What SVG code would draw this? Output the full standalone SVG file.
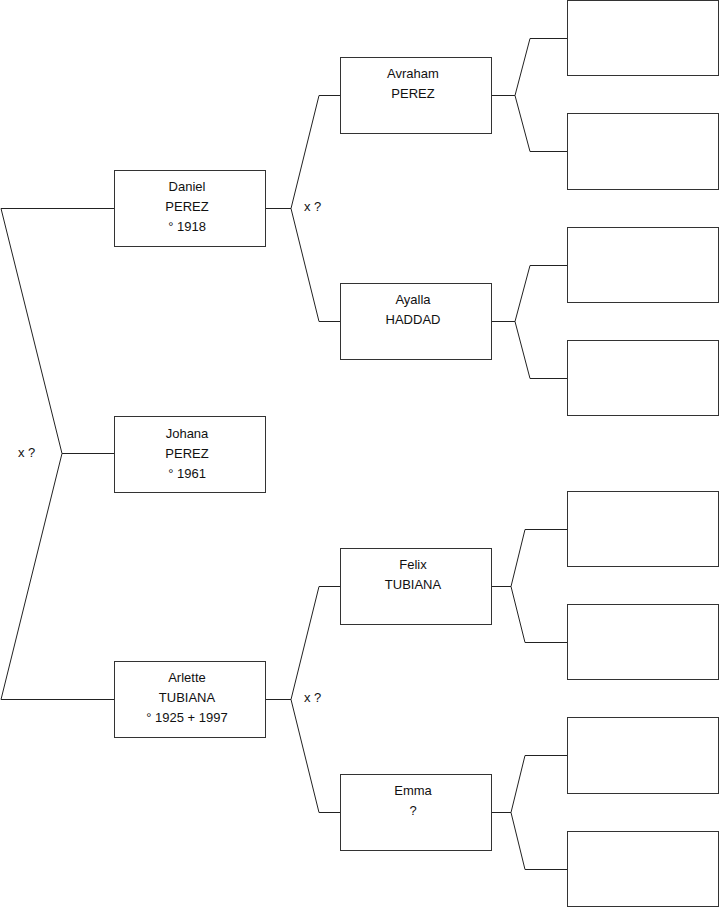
<svg xmlns="http://www.w3.org/2000/svg" width="719" height="908" viewBox="0 0 719 908">
<style>
.box{fill:#fff;stroke:#333;stroke-width:1}
.ln{fill:none;stroke:#222;stroke-width:1}
text{font-family:"Liberation Sans",Arial,sans-serif;font-size:13px;fill:#111}
.c{text-anchor:middle}
</style>
<rect width="719" height="908" fill="#fff"/>
<g id="connectors">
<path class="ln" d="M1 208.5H114.5M1 208.5L62 453.5L1 699.5H114.5M62 453.5H114.5"/>
<path class="ln" d="M265.5 208.5H291L319 95.5H340.5M291 208.5L319 321.5H340.5"/>
<path class="ln" d="M265.5 699.5H291L319 586.5H340.5M291 699.5L319 812.5H340.5"/>
<path class="ln" d="M491.5 95.5H515L530 38.5H567.5M515 95.5L530 151.5H567.5"/>
<path class="ln" d="M491.5 321.5H515L530 265.5H567.5M515 321.5L530 378.5H567.5"/>
<path class="ln" d="M491.5 586.5H511L525 529.5H567.5M511 586.5L525 642.5H567.5"/>
<path class="ln" d="M491.5 812.5H511L525 755.5H567.5M511 812.5L525 869.5H567.5"/>
<text x="18" y="457">x ?</text>
<text x="304" y="211">x ?</text>
<text x="304" y="702">x ?</text>
</g>
<g id="daniel"><rect class="box" x="114.5" y="170.5" width="151" height="76"/>
<text class="c" x="187" y="191">Daniel</text><text class="c" x="187" y="211">PEREZ</text><text class="c" x="187" y="231">° 1918</text></g>
<g id="johana"><rect class="box" x="114.5" y="416.5" width="151" height="76"/>
<text class="c" x="187" y="438">Johana</text><text class="c" x="187" y="458">PEREZ</text><text class="c" x="187" y="478">° 1961</text></g>
<g id="arlette"><rect class="box" x="114.5" y="661.5" width="151" height="76"/>
<text class="c" x="187" y="682">Arlette</text><text class="c" x="187" y="702">TUBIANA</text><text class="c" x="187" y="722">° 1925 + 1997</text></g>
<g id="avraham"><rect class="box" x="340.5" y="57.5" width="151" height="76"/>
<text class="c" x="413" y="78">Avraham</text><text class="c" x="413" y="98">PEREZ</text></g>
<g id="ayalla"><rect class="box" x="340.5" y="283.5" width="151" height="76"/>
<text class="c" x="413" y="304">Ayalla</text><text class="c" x="413" y="324">HADDAD</text></g>
<g id="felix"><rect class="box" x="340.5" y="548.5" width="151" height="76"/>
<text class="c" x="413" y="569">Felix</text><text class="c" x="413" y="589">TUBIANA</text></g>
<g id="emma"><rect class="box" x="340.5" y="774.5" width="151" height="76"/>
<text class="c" x="413" y="795">Emma</text><text class="c" x="413" y="815">?</text></g>
<g id="g3a"><rect class="box" x="567.5" y="0.5" width="151" height="75"/></g>
<g id="g3b"><rect class="box" x="567.5" y="113.5" width="151" height="76"/></g>
<g id="g3c"><rect class="box" x="567.5" y="227.5" width="151" height="75"/></g>
<g id="g3d"><rect class="box" x="567.5" y="340.5" width="151" height="75"/></g>
<g id="g3e"><rect class="box" x="567.5" y="491.5" width="151" height="75"/></g>
<g id="g3f"><rect class="box" x="567.5" y="604.5" width="151" height="75"/></g>
<g id="g3g"><rect class="box" x="567.5" y="717.5" width="151" height="76"/></g>
<g id="g3h"><rect class="box" x="567.5" y="831.5" width="151" height="75"/></g>
</svg>
